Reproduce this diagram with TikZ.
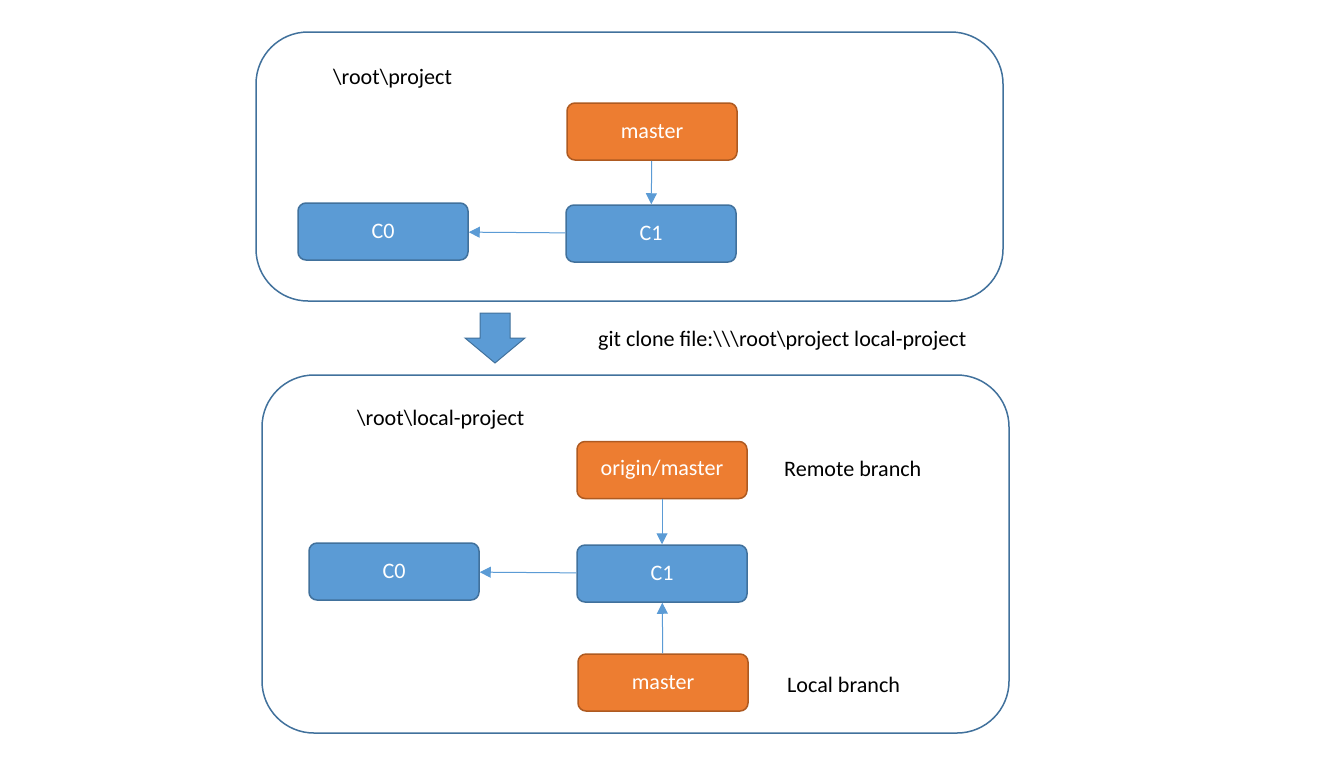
\documentclass[tikz,border=0pt]{standalone}
\usepackage{fontspec}
\setmainfont{Carlito}
\usetikzlibrary{arrows.meta}

\definecolor{cblue}{HTML}{5B9BD5}
\definecolor{cblueline}{HTML}{41719C}
\definecolor{corange}{HTML}{ED7D31}
\definecolor{corangeline}{HTML}{AE5A21}

\tikzset{
  repo/.style={draw=cblueline, line width=1.5pt, rounded corners=52pt},
  commit/.style={draw=cblueline, fill=cblue, line width=1.5pt, rounded corners=8pt,
    minimum width=170pt, minimum height=57pt, text=white, font=\fontsize{22.1}{26}\selectfont},
  branch/.style={commit, draw=corangeline, fill=corange},
  label/.style={anchor=west, inner sep=0pt, font=\fontsize{22.1}{26}\selectfont},
  pointer/.style={draw=cblue, line width=1pt, -{Triangle[length=11pt, width=11pt]}}
}

\begin{document}
\begin{tikzpicture}[x=1pt, y=-1pt]
    \useasboundingbox (0,0) rectangle (1343,772);

    % original repository
    \draw [repo] (256,32) rectangle (1003,301);
    \node [label] (toppath) at (333,79) {\textbackslash root\textbackslash project};
    \node [branch] (topmaster) at (652,131.5) {master};
    \node [commit] (topc1) at (651,233.5) {C1};
    \node [commit] (topc0) at (383,231.5) {C0};
    \draw [pointer] (topmaster) -- (topc1);
    \draw [pointer] (topc1) -- (topc0);

    % clone step
    \draw [draw=cblueline, fill=cblue, line width=1pt, line join=miter]
        (480,313) -- (510,313) -- (510,338) -- (525,338) -- (495,363)
        -- (465,338) -- (480,338) -- cycle;
    \node [label] (clonecmd) at (598,341) {git clone file:\textbackslash\textbackslash\textbackslash root\textbackslash project local-project};

    % cloned repository
    \draw [repo] (262,375) rectangle (1009,733);
    \node [label] (localpath) at (357,420) {\textbackslash root\textbackslash local-project};
    \node [branch] (originmaster) at (662,470) {origin/master};
    \node [commit] (botc1) at (662,573.5) {C1};
    \node [commit] (botc0) at (394,571.5) {C0};
    \node [branch] (localmaster) at (663,682.5) {master};
    \node [label] (remotelbl) at (784,469) {Remote branch};
    \node [label] (locallbl) at (787,685) {Local branch};
    \draw [pointer] (originmaster) -- (botc1);
    \draw [pointer] (botc1) -- (botc0);
    \draw [pointer] (localmaster) -- (botc1);
\end{tikzpicture}
\end{document}
